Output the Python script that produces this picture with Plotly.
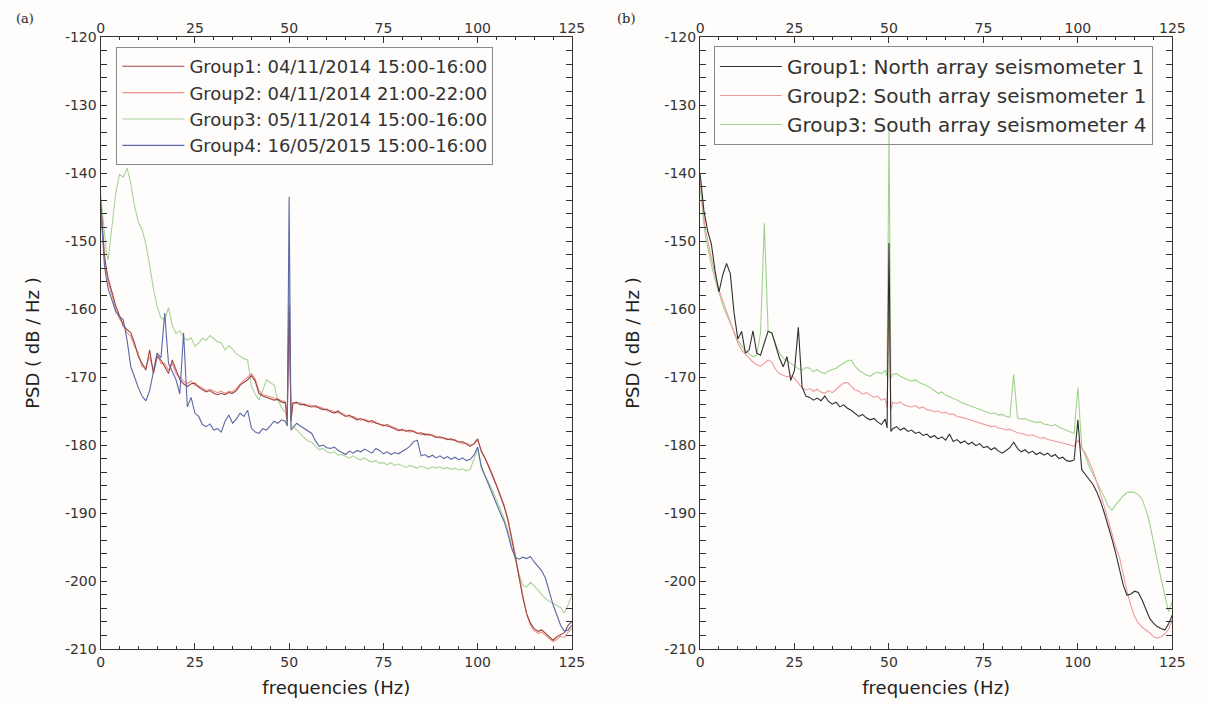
import plotly.graph_objects as go

# ---------------- frequency grid (Hz) shared by all series ----------------
FREQ = [0, 0.5, 1, 1.5] + list(range(2, 50)) + [49.5, 50, 50.5] + list(range(51, 126))

# ---------------- panel (a) ----------------
A_NAMES = ["Group1: 04/11/2014 15:00-16:00", "Group2: 04/11/2014 21:00-22:00",
           "Group3: 05/11/2014 15:00-16:00", "Group4: 16/05/2015 15:00-16:00"]

A_G1 = [-144, -149, -152, -154,
        -155.5, -157.5, -159.5, -161, -162.5, -163, -163.5, -165, -167, -168,
        -169, -166, -169.5, -167, -167.5, -168.5, -169.5, -167.5, -169, -170.4,
        -171, -171.4, -171, -170.9, -171.5, -171.9, -172.2, -172, -172.4, -172.6,
        -172.4, -172.6, -172.3, -172.4, -172, -171.2, -170.8, -170.4, -169.8, -170.6,
        -172.4, -172.8, -173, -173.2, -173.4, -173.3, -173.7, -173.8,
        -176.5, -159.5, -176.5,
        -173.9, -173.7, -174.1, -174, -174.3, -174.4, -174.2, -174.6, -174.8, -174.7,
        -175.1, -175.3, -175, -175.5, -175.8, -175.6, -176, -176.3, -176.1, -176.4,
        -176.6, -176.4, -176.8, -176.9, -177.2, -177, -177.4, -177.6, -177.9, -177.7,
        -178, -177.8, -178.1, -178.3, -178.2, -178.5, -178.4, -178.7, -178.9, -178.8,
        -179, -179.2, -179.1, -179.4, -179.6, -179.5, -179.9, -180.2, -179.8, -179.1,
        -181, -182, -183.3, -184.6, -186, -187.5, -189, -191, -193.5, -196.5,
        -199.5, -202.5, -204.8, -206.2, -207, -207.4, -207.2, -207.7, -208.3, -208.7,
        -208.2, -207.9, -207.6, -206.5, -206]

A_G2 = [-145, -150, -153, -154.5,
        -156, -158, -160, -161.5, -162, -163.5, -164, -165.5, -166.5, -168.5,
        -168.5, -167, -169, -166.5, -168, -168, -169, -168, -169.5, -170,
        -170.6, -171, -170.6, -171.2, -171.3, -171.6, -172, -171.8, -172.1, -172.3,
        -172.1, -172.4, -172.1, -172.2, -171.7, -171, -170.5, -170, -169.5, -170.3,
        -172, -172.6, -172.8, -173, -173.1, -173.2, -173.5, -173.6,
        -176, -160.5, -176,
        -173.7, -173.9, -173.8, -174.2, -174.1, -174.2, -174.5, -174.4, -174.6, -175,
        -174.9, -175.1, -175.3, -175.3, -175.6, -175.9, -175.8, -176.1, -176.4, -176.2,
        -176.4, -176.7, -176.6, -177, -177, -177.3, -177.2, -177.5, -177.7, -177.9,
        -177.8, -178.1, -177.9, -178.2, -178.5, -178.3, -178.6, -178.5, -178.8, -179,
        -178.9, -179.1, -179.3, -179.2, -179.5, -179.8, -179.7, -180, -179.9, -179.3,
        -180.8, -181.9, -183.1, -184.4, -185.8, -187.2, -188.8, -190.7, -193.2, -196.2,
        -199.3, -202.3, -204.9, -206.5, -207.3, -207.7, -207.5, -208, -208.5, -208.9,
        -208.6, -208.1, -208.3, -207.5, -207]

A_G3 = [-143, -146, -149, -151.5,
        -152.8, -148, -143, -140.2, -140.6, -139.3, -141.5, -144.9, -147.2, -148.3,
        -150.5, -153.5, -157, -159.7, -161.3, -161.6, -159.8, -162.4, -163.6, -163.2,
        -164.2, -164.6, -164.2, -165.5, -165, -164.3, -164.6, -163.9, -164.3, -164.8,
        -165, -166, -165.4, -165.9, -166.6, -167, -167.3, -167.5, -171.4, -172.5,
        -173.4, -172, -170.4, -170.8, -171.2, -173.4, -174.5, -175.2,
        -177, -154, -177.5,
        -177.2, -177.8, -178.3, -178.9, -179.4, -179.6, -180.2, -180.7, -180.5, -181,
        -181.2, -181, -181.5, -181.4, -181.7, -181.9, -181.6, -182, -182.2, -181.9,
        -182.3, -182.5, -182.3, -182.7, -182.6, -182.9, -182.6, -183, -182.8, -183.1,
        -183.3, -183, -183.2, -183.4, -183.1, -183.3, -183.5, -183.2, -183.4, -183.2,
        -183.5, -183.3, -183.6, -183.4, -183.7, -183.5, -183.8, -183.6, -182, -180.6,
        -183.5, -184.5, -185.6, -186.8, -188, -189.4, -190.8, -192.5, -194.8, -197,
        -199, -200.6, -200.9, -200.2, -200.7, -201.3, -202, -202.6, -203, -203.3,
        -203.5, -203.9, -204.7, -203.5, -202]

A_G4 = [-144.5, -150, -153.5, -155.5,
        -157, -158.7, -160.4, -161.1, -161.6, -164.5, -168.5, -170, -171.6, -172.8,
        -173.5, -172, -169.5, -166.5, -167.2, -160.6, -168, -169.2, -170.4, -172.5,
        -163.5, -174.4, -173, -175.3, -175.8, -177, -177.3, -176.9, -177.8, -177.6,
        -178.1, -176.5, -175.6, -176.8, -176.2, -175.3, -175.8, -174.9, -177.5, -178.1,
        -178.3, -177.6, -177.8, -177.2, -176.5, -176.8, -176.3, -176.5,
        -177.2, -143.5, -177.8,
        -177.5, -176.8, -177.2, -177.6, -178, -178.3, -179.4, -180.2, -180, -180.4,
        -180.5, -180.3, -180.8, -181.1, -181.4, -180.9, -181.2, -180.8, -181, -180.6,
        -180.9, -181.2, -180.5, -180.8, -181.3, -181, -181.4, -181.1, -181.3, -181,
        -180.6, -180.2, -179.5, -179.3, -181.6, -181.4, -181.8, -181.5, -181.9, -181.6,
        -182, -181.7, -182.1, -181.8, -182.2, -181.9, -182.3, -182.1, -181.5, -180.3,
        -183.2, -184.6, -186, -187.3, -188.6, -190, -191.2, -193, -195.2, -196.5,
        -196.8, -196.5, -196.7, -196.4, -197.2, -197.8, -198.5, -199.6, -201.5, -203.5,
        -205, -206.5, -207.4, -207.2, -206.5]

# ---------------- panel (b) ----------------
B_NAMES = ["Group1: North array seismometer 1", "Group2: South array seismometer 1",
           "Group3: South array seismometer 4"]

B_G1 = [-140, -143, -145.5, -147,
        -148.5, -150.5, -154.5, -157.5, -155, -153.3, -154.8, -160.6, -164.4, -163.3,
        -166.5, -166, -163.2, -166.5, -166.8, -165, -163.3, -163.5, -165.4, -167.2,
        -168.5, -167, -170.5, -169, -162.7, -171.5, -172.8, -173, -173.4, -173.1,
        -173.5, -172.8, -173.6, -174, -173.7, -174.4, -174.1, -174.6, -174.9, -175.3,
        -175.8, -175.5, -176, -176.3, -176.1, -176.6, -177, -176.2,
        -177.5, -150.3, -178,
        -177.6, -177.3, -177.8, -177.5, -178, -177.8, -178.3, -178.1, -178.6, -178.4,
        -178.9, -178.6, -179.1, -178.8, -179.3, -178.4, -179.5, -179.2, -179.7, -179.4,
        -179.9, -179.6, -180.1, -179.8, -180.4, -180.2, -180.7, -180.4, -180.9, -181.2,
        -180.8, -180.4, -179.6, -180.5, -181, -180.7, -181.2, -180.9, -181.4, -181.1,
        -181.5, -181.2, -181.7, -181.4, -182, -181.8, -182.3, -182.4, -182.2, -176.3,
        -183.6, -184.3, -185, -185.8, -186.9, -188.3, -190, -191.8, -193.8, -195.9,
        -198.3, -200.6, -202.1, -201.9, -201.5, -201.7, -202.8, -204.3, -205.5, -206.2,
        -206.7, -207, -207.2, -206.3, -205]

B_G2 = [-141, -144, -146.5, -148.5,
        -150, -152.5, -155, -157.2, -158.8, -160.4, -162, -163.6, -165, -166,
        -166.6, -167.3, -167.8, -168.2, -168.4, -168, -167.5, -167.8, -168.9, -169.5,
        -169.7, -170, -169.8, -170.2, -170.9, -171.6, -171.9, -171.7, -172.1, -171.8,
        -172.2, -172.4, -172, -172.3, -171.8, -171.4, -170.9, -170.8, -171.3, -171.9,
        -172.1, -172.5, -172.3, -172.7, -173, -172.8, -173.4, -173.2,
        -174.5, -158.7, -174.8,
        -173.7, -173.9, -173.7, -174.1, -174.3, -174.4, -174.2, -174.6, -174.4, -174.8,
        -174.9, -175.1, -175, -175.3, -175.2, -175.5, -175.4, -175.8, -175.9, -176,
        -176.2, -176.4, -176.6, -176.8, -176.9, -177.1, -177.3, -177.2, -177.5, -177.6,
        -177.8, -177.7, -178, -178.2, -178.3, -178.4, -178.6, -178.5, -178.8, -179,
        -178.9, -179.2, -179.3, -179.5, -179.6, -179.7, -179.9, -180, -180.2, -179.3,
        -180.5, -181.2, -182.4, -183.8, -185.5, -187.2, -189.1, -191, -193, -195,
        -196.5, -199.2, -201.5, -203.6, -205.2, -206.2, -206.8, -207.2, -207.6, -208.2,
        -208.4, -208.2, -207.8, -207.1, -205.7]

B_G3 = [-142, -145, -147.5, -149.5,
        -151, -153.5, -155.8, -157.8, -159.4, -160.8, -162.2, -163.4, -164.6, -165.4,
        -166.2, -166.6, -167, -166.8, -163.5, -147.4, -163.2, -163.6, -165, -166.5,
        -167.2, -167.6, -167.9, -168.3, -168.8, -169, -168.6, -168.7, -169.2, -168.9,
        -169.3, -169.5, -169.1, -168.9, -168.7, -168.3, -168, -167.6, -167.5, -168.4,
        -169, -169.4, -169.7, -169.9, -169.5, -169.3, -169.5, -169,
        -170, -133.7, -170.2,
        -169.6, -169.5, -169.9, -170.2, -170.4, -170.6, -170.4, -170.8, -171, -171.3,
        -171.6, -172, -172.4, -172.2, -172.7, -172.9, -173.1, -173.4, -173.7, -173.9,
        -174.2, -174.4, -174.5, -174.8, -175, -175.2, -175.4, -175.3, -175.6, -175.5,
        -175.8, -175.9, -169.6, -176, -176.2, -176.1, -176.4, -176.5, -176.7, -176.6,
        -176.9, -177, -177.2, -177, -177.4, -177.6, -177.8, -178, -178.3, -171.5,
        -180.2, -181.7, -183.2, -184.3, -185.4, -186.5, -187.7, -189, -189.6, -188.8,
        -188.1, -187.5, -187, -186.9, -187, -187.3, -188, -189.5, -191.5, -194,
        -197, -199.6, -202.3, -204.5, -203]

X_TICKS = [0, 25, 50, 75, 100, 125]
Y_TICKS = [-210, -200, -190, -180, -170, -160, -150, -140, -130, -120]
Y_TICKTEXT = ["-210", "-200", "-190", "-180", "-170", "-160", "-150", "-140", "-130", "-120"]

A_COLORS = ["#9c4646", "#ec8f86", "#a9d39a", "#5b68a6"]
B_COLORS = ["#2f2f2f", "#f09a9a", "#9fd28f"]

for s in (A_G1, A_G2, A_G3, A_G4, B_G1, B_G2, B_G3):
    assert len(s) == len(FREQ), len(s)

FONT = "DejaVu Sans"
W, H = 1210, 705
T, B = 37, 56
PH = H - T - B
DOM_A = [98 / W, 576 / W]
DOM_B = [706 / W, 1185 / W]

fig = go.Figure()

# panel (a): draw order green, salmon, red, blue (blue on the top-labelled axis)
a_series = [A_G1, A_G2, A_G3, A_G4]
for idx in [2, 1, 0, 3]:
    fig.add_trace(go.Scatter(x=FREQ, y=a_series[idx], mode="lines", name=A_NAMES[idx],
                             line=dict(color=A_COLORS[idx], width=1.1),
                             xaxis="x3" if idx == 3 else "x", yaxis="y",
                             legend="legend", legendrank=idx + 1))

b_series = [B_G1, B_G2, B_G3]
for idx in [2, 1, 0]:
    fig.add_trace(go.Scatter(x=FREQ, y=b_series[idx], mode="lines", name=B_NAMES[idx],
                             line=dict(color=B_COLORS[idx], width=1.1),
                             xaxis="x4" if idx == 0 else "x2", yaxis="y2",
                             legend="legend2", legendrank=idx + 1))

axis_font = dict(family=FONT, size=14, color="#333")
title_font = dict(family=FONT, size=18, color="#222")
common_x = dict(range=[0, 125], tickvals=X_TICKS, ticks="inside", ticklen=6, tickwidth=1.2,
                tickcolor="#333", showline=True, linecolor="#333", linewidth=1.3, mirror="allticks",
                showgrid=False, zeroline=False, tickfont=axis_font,
                minor=dict(dtick=5, ticks="inside", ticklen=3, tickcolor="#333", showgrid=False))
common_y = dict(range=[-210, -120], tickvals=Y_TICKS, ticktext=Y_TICKTEXT, ticks="inside",
                ticklen=6, tickwidth=1.2, tickcolor="#333", showline=True, linecolor="#333",
                linewidth=1.3, mirror="allticks", showgrid=False, zeroline=False, tickfont=axis_font,
                minor=dict(dtick=2, ticks="inside", ticklen=3, tickcolor="#333", showgrid=False),
                title=dict(text="PSD ( dB / Hz )", font=title_font, standoff=20))
top_x = dict(range=[0, 125], tickvals=X_TICKS, ticks="", showline=False, showgrid=False,
             zeroline=False, side="top", tickfont=axis_font)

fig.update_layout(
    width=W, height=H,
    margin=dict(l=0, r=0, t=T, b=B),
    paper_bgcolor="#fefdfb", plot_bgcolor="#fefdfb",
    xaxis=dict(domain=DOM_A, anchor="y",
               title=dict(text="frequencies (Hz)", font=title_font, standoff=12), **common_x),
    yaxis=dict(domain=[0, 1], anchor="x", **common_y),
    xaxis2=dict(domain=DOM_B, anchor="y2",
                title=dict(text="frequencies (Hz)", font=title_font, standoff=12), **common_x),
    yaxis2=dict(domain=[0, 1], anchor="x2", **common_y),
    xaxis3=dict(overlaying="x", anchor="y", **top_x),
    xaxis4=dict(overlaying="x2", anchor="y2", **top_x),
    legend=dict(x=114 / W, y=1 - (47 - T) / PH, xanchor="left", yanchor="top",
                bgcolor="rgba(255,255,255,0)", bordercolor="#888", borderwidth=1,
                font=dict(family=FONT, size=18, color="#333"), itemwidth=62,
                tracegroupgap=0),
    legend2=dict(x=720 / W, y=1 - (46 - T) / PH, xanchor="left", yanchor="top",
                 bgcolor="rgba(255,255,255,0)", bordercolor="#888", borderwidth=1,
                 font=dict(family=FONT, size=20, color="#333"), itemwidth=62,
                 tracegroupgap=0),
    annotations=[
        dict(text="(a)", x=10 / W, y=1 + (T - 18) / PH, xref="paper", yref="paper",
             xanchor="left", yanchor="middle", showarrow=False,
             font=dict(family="DejaVu Serif", size=13, color="#222")),
        dict(text="(b)", x=620 / W, y=1 + (T - 18) / PH, xref="paper", yref="paper",
             xanchor="left", yanchor="middle", showarrow=False,
             font=dict(family="DejaVu Serif", size=13, color="#222")),
    ],
    showlegend=True,
)

fig.write_html("out.html")
